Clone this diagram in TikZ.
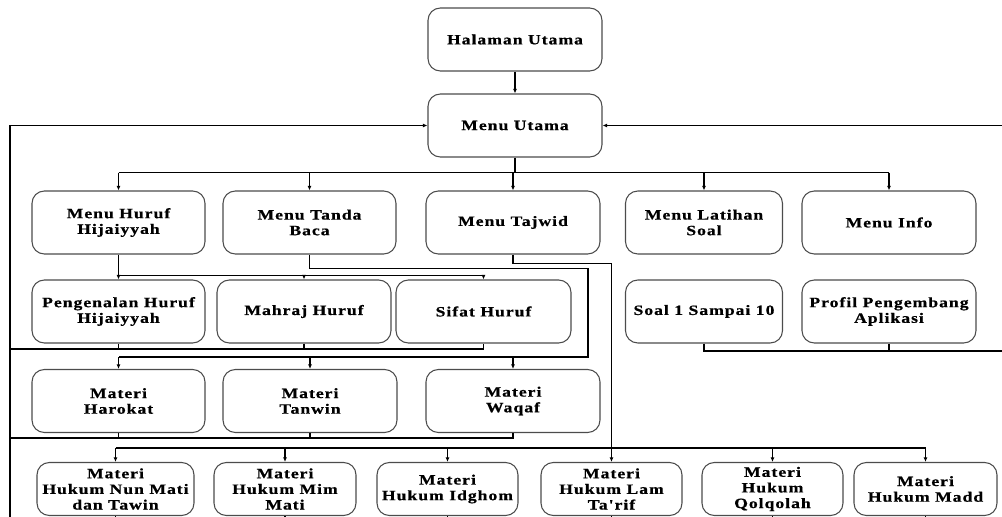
\documentclass[tikz,border=0pt]{standalone}
\usepackage{fontspec}
\setmainfont{Liberation Serif}
\newfontfamily\menufont{Liberation Serif}[FakeStretch=1.24,LetterSpace=7,BoldFeatures={FakeBold=0.6}]
\usetikzlibrary{arrows.meta}
\tikzset{
  box/.style={draw=black!70,line width=0.6pt,rounded corners=7pt,fill=white,align=center,
    minimum width=3.48cm,minimum height=1.26cm,inner sep=1pt,
    font=\menufont\bfseries\fontsize{8.1}{8.9}\selectfont},
  link/.style={line width=0.6pt},
  route/.style={line width=1.1pt},
  arr/.style={-{Latex[length=2.6pt,width=2.2pt]}}
}
\newcommand{\menubox}[4][]{\node[box,#1] at (#2) (#3) {#4}}

\begin{document}
\begin{tikzpicture}[x=0.02cm,y=-0.02cm]
  \useasboundingbox (0,0) rectangle (1002,517);
  \menubox{515,39.5}{hal}{Halaman Utama};
  \menubox{515,125.5}{utama}{Menu Utama};
  \menubox[minimum width=3.46cm]{118.5,222.5}{hijaiyyah}{Menu Huruf\\Hijaiyyah};
  \menubox[minimum width=3.46cm]{309.5,222.5}{tanda}{Menu Tanda\\Baca};
  \menubox{513,222.5}{tajwid}{Menu Tajwid};
  \menubox[minimum width=3.14cm]{704,222.5}{latihan}{Menu Latihan\\Soal};
  \menubox{889,222.5}{info}{Menu Info};
  \menubox[minimum width=3.46cm]{118.5,311.5}{pengenalan}{Pengenalan Huruf\\Hijaiyyah};
  \menubox{304,311.5}{mahraj}{Mahraj Huruf};
  \menubox[minimum width=3.5cm]{483.5,311.5}{sifat}{Sifat Huruf};
  \menubox[minimum width=3.14cm]{704,311.5}{soal}{Soal 1 Sampai 10};
  \menubox{889,311.5}{profil}{Profil Pengembang\\Aplikasi};
  \menubox[minimum width=3.46cm]{118.5,401}{harokat}{Materi\\Harokat};
  \menubox{310,401}{tanwin}{Materi\\Tanwin};
  \menubox{513,401}{waqaf}{Materi\\Waqaf};
  \menubox[minimum width=3.14cm,minimum height=1.06cm]{115.5,489}{nun}{Materi\\Hukum Nun Mati\\dan Tawin};
  \menubox[minimum width=2.84cm,minimum height=1.06cm]{285,489}{mim}{Materi\\Hukum Mim\\Mati};
  \menubox[minimum width=2.82cm,minimum height=1.06cm]{447.5,489}{idghom}{Materi\\Hukum Idghom};
  \menubox[minimum width=2.82cm,minimum height=1.06cm]{611.5,489}{lam}{Materi\\Hukum Lam\\Ta'rif};
  \menubox[minimum width=2.82cm,minimum height=1.06cm]{772.5,489}{qolqolah}{Materi\\Hukum\\Qolqolah};
  \menubox[minimum width=2.86cm,minimum height=1.06cm]{925.5,489}{madd}{Materi\\Hukum Madd};

  \draw[link,arr] (hal) -- (utama);
  \draw[route] (utama.south) -- ++(0,15) coordinate (menubus);
  \draw[link] (hijaiyyah.north |- menubus) -- (info.north |- menubus);
  \foreach \m in {hijaiyyah,tanda,tajwid,latihan,info}
    \draw[link,arr] (\m.north |- menubus) -- (\m.north);

  \draw[link] (hijaiyyah.south) -- ++(0,21) coordinate (hurufbus) -- (sifat.north |- hurufbus);
  \foreach \m in {pengenalan,mahraj,sifat}
    \draw[link,arr] (\m.north |- hurufbus) -- (\m.north);

  \coordinate (bacasudut) at (588,357);
  \draw[route] (tanda.south) -- ++(0,14) -| (bacasudut) -- (waqaf.north |- bacasudut);
  \draw[link] (waqaf.north |- bacasudut) -- (harokat.north |- bacasudut);
  \foreach \m in {harokat,tanwin,waqaf}
    \draw[link,arr] (\m.north |- bacasudut) -- (\m.north);

  \coordinate (tajwidbus) at (0,448);
  \draw[route] (tajwid.south) -- ++(0,9) -| (lam.north |- tajwidbus);
  \draw[route] (nun.north |- tajwidbus) -- (lam.north |- tajwidbus);
  \draw[link] (lam.north |- tajwidbus) -- (madd.north |- tajwidbus);
  \foreach \m in {nun,mim,idghom,lam,qolqolah,madd}
    \draw[link,arr] (\m.north |- tajwidbus) -- (\m.north);

  \coordinate (kanan) at (1012,351);
  \draw[link] (soal.south) |- (kanan);
  \draw[link] (profil.south) -- (profil.south |- kanan);
  \draw[route,arr] (kanan) |- (utama.east);

  \coordinate (kiri) at (10,522);
  \draw[route,arr] (kiri) |- (utama.west);
  \coordinate (balik3) at (10,349);
  \draw[link] (balik3) -| (sifat.south);
  \foreach \m in {pengenalan,mahraj}
    \draw[link] (\m.south) -- (\m.south |- balik3);
  \coordinate (balik4) at (10,438);
  \draw[link] (balik4) -| (waqaf.south);
  \foreach \m in {harokat,tanwin}
    \draw[link] (\m.south) -- (\m.south |- balik4);
  \foreach \m in {nun,mim,idghom,lam,qolqolah,madd}
    \draw[link] (\m.south) -- ++(0,6);
\end{tikzpicture}
\end{document}
